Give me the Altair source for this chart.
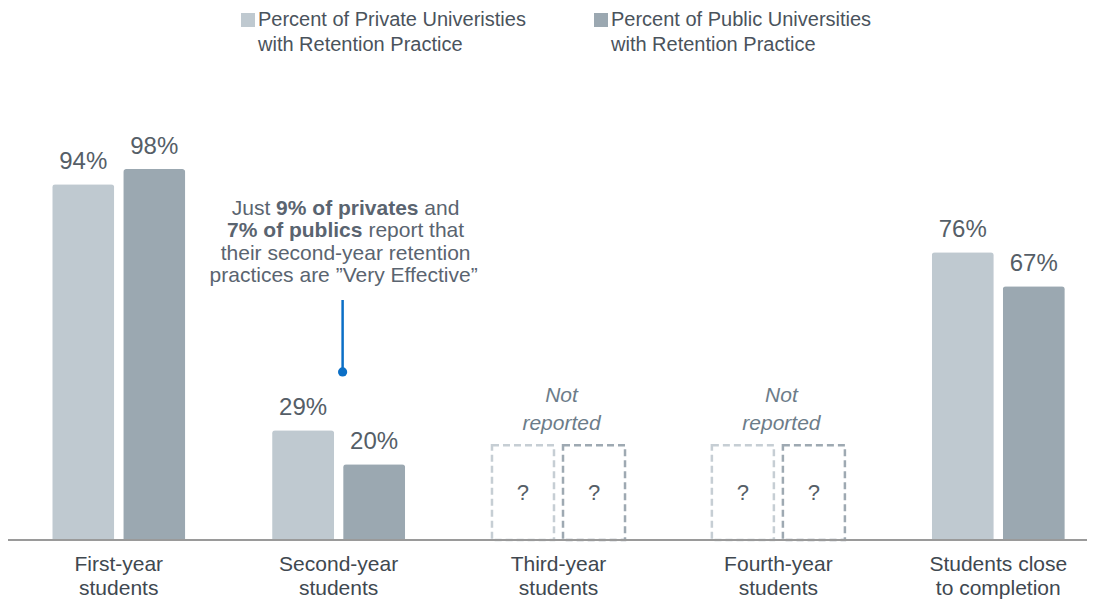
import altair as alt
import pandas as pd

# ---- data ----
categories = ["First-year students", "Second-year students", "Third-year students",
              "Fourth-year students", "Students close to completion"]
series = ["Percent of Private Univeristies with Retention Practice",
          "Percent of Public Universities with Retention Practice"]
private_vals = [94, 29, None, None, 76]
public_vals = [98, 20, None, None, 67]
placeholder_value = 25  # height of the "?" placeholder boxes (not reported)

rows, missing_rows, missing_cats = [], [], []
for cat, pv, uv in zip(categories, private_vals, public_vals):
    if pv is None:
        missing_cats.append({"category": cat, "value": placeholder_value})
        for s in series:
            missing_rows.append({"category": cat, "series": s, "value": placeholder_value})
    else:
        rows.append({"category": cat, "series": series[0], "value": pv})
        rows.append({"category": cat, "series": series[1], "value": uv})

df = pd.DataFrame(rows)
df_missing = pd.DataFrame(missing_rows)
df_missing_cat = pd.DataFrame(missing_cats)

FONT = "Liberation Sans"
W, H = 1057, 530

x_scale = alt.Scale(domain=categories, paddingInner=0.395, paddingOuter=0.101)
x_axis = alt.Axis(title=None, ticks=False, tickSize=0, domain=False, labelAngle=0,
                  labelFont=FONT, labelFontSize=21, labelColor="#404850",
                  labelPadding=13, labelBaseline="top", labelLineHeight=24,
                  labelExpr="datum.value == 'Students close to completion' ? ['Students close', 'to completion'] : split(datum.value, ' ')")


def xenc(field="category"):
    return alt.X(f"{field}:N", sort=categories, scale=x_scale, axis=x_axis)


xo_enc = alt.XOffset("series:N", scale=alt.Scale(domain=series, paddingInner=0.127))
y_scale = alt.Scale(domain=[0, 140], nice=False)
y_enc = alt.Y("value:Q", scale=y_scale, axis=None)

bars = alt.Chart(df).mark_bar(cornerRadiusTopLeft=3, cornerRadiusTopRight=3).encode(
    x=xenc(), xOffset=xo_enc, y=y_enc,
    color=alt.Color("series:N", scale=alt.Scale(domain=series, range=["#bfc9d0", "#9ba8b1"]),
                    legend=alt.Legend(title=None, orient="none", legendX=208, legendY=0,
                                      direction="horizontal", columns=2, columnPadding=65,
                                      symbolType="square", symbolSize=196, symbolStrokeWidth=0,
                                      labelFont=FONT, labelFontSize=20, labelColor="#4a535c",
                                      labelOffset=0, labelLimit=500, padding=0,
                                      labelExpr="[slice(datum.label, 0, indexof(datum.label, ' with ')), slice(datum.label, indexof(datum.label, ' with ') + 1)]"))
)

value_labels = alt.Chart(df).transform_calculate(
    label="datum.value + '%'"
).mark_text(font=FONT, fontSize=24, color="#555e67", baseline="alphabetic", dy=-15).encode(
    x=xenc(), xOffset=xo_enc, y=y_enc, text="label:N"
)

boxes = alt.Chart(df_missing).mark_bar(fillOpacity=0, strokeWidth=2.5, strokeDash=[7, 4]).encode(
    x=xenc(), xOffset=xo_enc, y=y_enc,
    stroke=alt.Stroke("series:N", scale=alt.Scale(domain=series, range=["#c6ced4", "#9ea9b2"]),
                      legend=None)
)

qmarks = alt.Chart(df_missing).transform_calculate(
    mid="datum.value / 2", q="'?'"
).mark_text(font=FONT, fontSize=22, color="#555e67", baseline="middle").encode(
    x=xenc(), xOffset=xo_enc, y=alt.Y("mid:Q", scale=y_scale, axis=None), text="q:N"
)

not_reported = alt.Chart(df_missing_cat).transform_calculate(
    t="'Not\\nreported'"
).mark_text(font=FONT, fontSize=21, fontStyle="italic", color="#6c7c89", baseline="alphabetic",
            lineBreak="\n", lineHeight=28, dy=-43, dx=3).encode(
    x=xenc(), y=y_enc, text="t:N"
)

# ---- annotation for second-year students ----
ann_cat = "Second-year students"
ann_color = "#5a6470"
ann_lines_y = [87.4, 81.5, 75.5, 69.7]
C = 7  # horizontal shift of annotation centre from category centre


def seg(text, yv, dx, bold=False, align="left"):
    return alt.Chart(pd.DataFrame({"t": [text]})).mark_text(
        font=FONT, fontSize=21, fontWeight="bold" if bold else "normal", color=ann_color,
        align=align, baseline="middle", dx=dx
    ).encode(x=xenc("xc"), y=alt.Y("yv:Q", scale=y_scale, axis=None), text="t:N").transform_calculate(
        xc=f"'{ann_cat}'", yv=str(yv))


ann = [
    seg("Just", ann_lines_y[0], C - 113.8),
    seg("9% of privates", ann_lines_y[0], C - 69.5, bold=True),
    seg("and", ann_lines_y[0], C + 78.7),
    seg("7% of publics", ann_lines_y[1], C - 118.5, bold=True),
    seg("report that", ann_lines_y[1], C + 22.8),
    seg("their second-year retention", ann_lines_y[2], C, align="center"),
    seg("practices are \u201dVery Effective\u201d", ann_lines_y[3], C - 2, align="center"),
]

leader_df = pd.DataFrame({"category": [ann_cat], "y1": [44.4], "y2": [63.4]})
leader = alt.Chart(leader_df).mark_rule(color="#0b6fc6", strokeWidth=2.5, xOffset=4).encode(
    x=xenc(), y=alt.Y("y1:Q", scale=y_scale, axis=None), y2="y2:Q")
dot = alt.Chart(leader_df).mark_point(filled=True, color="#0b6fc6", size=85, opacity=1, xOffset=4).encode(
    x=xenc(), y=alt.Y("y1:Q", scale=y_scale, axis=None))

baseline = alt.Chart(pd.DataFrame({"z": [0]})).mark_rule(color="#9a9a9a", strokeWidth=2).encode(
    y=alt.Y("z:Q", scale=y_scale, axis=None), x=alt.value(-22), x2=alt.value(W))

chart = alt.layer(
    bars, boxes, value_labels, qmarks, not_reported, *ann, leader, dot, baseline
).resolve_scale(x="shared").properties(
    width=W, height=H,
    autosize=alt.AutoSizeParams(type="none"),
    padding={"left": 22, "top": 2, "right": 0, "bottom": 60},
).configure(style={"guide-label": {"lineHeight": 25}}).configure_view(stroke="transparent")

chart.save("out.html", embed_options={"renderer": "svg", "actions": False})
